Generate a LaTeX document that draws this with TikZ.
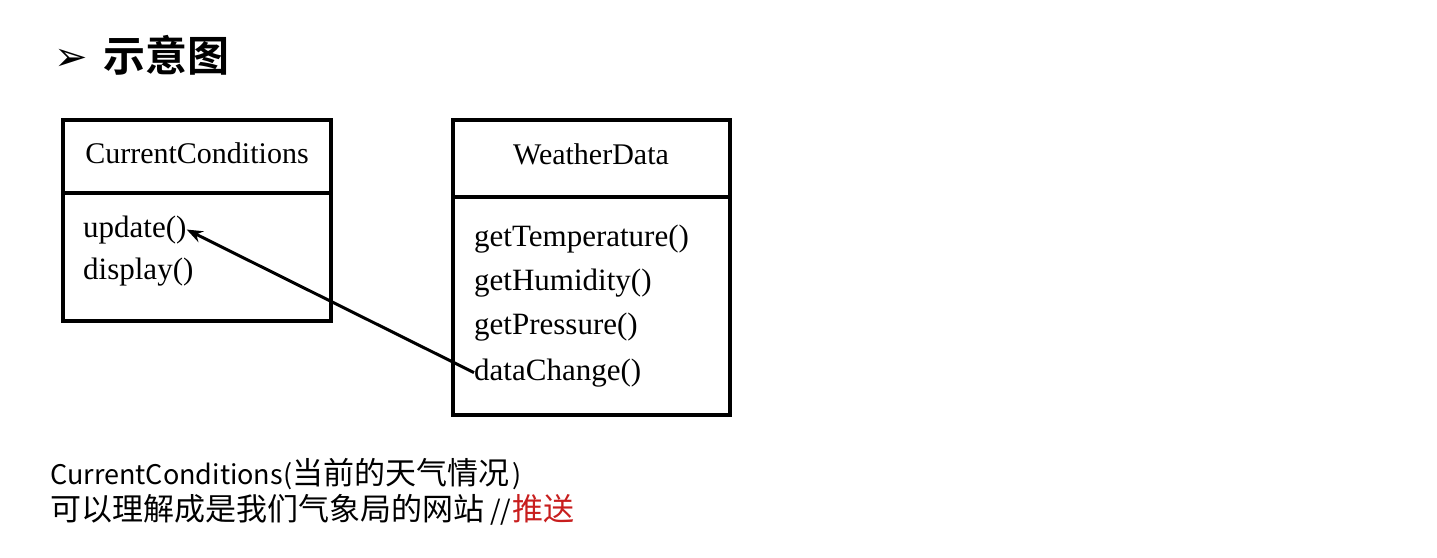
\documentclass[tikz,border=0pt]{standalone}
\usepackage{fontspec}
\setmainfont{Liberation Serif}
\newfontfamily\cjk{Noto Sans CJK SC}
\newfontfamily\cjkbold{Noto Sans CJK SC Bold}
\newfontfamily\dejavu{DejaVu Sans}
\usetikzlibrary{arrows.meta}
\definecolor{pushred}{RGB}{200,30,30}
\newcommand{\latinpart}[1]{{\fontsize{27}{30}\selectfont #1}}
\tikzset{
  box/.style={draw=black, line width=4pt, inner sep=0pt, outer sep=0pt, anchor=north west},
  member/.style={font=\fontsize{31}{34}\selectfont, inner sep=0pt, anchor=base west},
  cname/.style={font=\fontsize{30}{34}\selectfont, inner sep=0pt, anchor=base},
  note/.style={font=\cjk\fontsize{31}{34}\selectfont, inner sep=0pt, anchor=base west},
  link/.style={line width=3pt, -{Stealth[length=16pt,width=12pt]}},
}
\begin{document}
\begin{tikzpicture}[x=1pt,y=-1pt]
\useasboundingbox[fill=white] (0,0) rectangle (1437,557);
% title
\node[font=\dejavu\fontsize{40}{44}\selectfont, inner sep=0pt, anchor=base west] (bullet) at (54,70) {➢};
\node[font=\cjkbold\fontsize{42}{46}\selectfont, inner sep=0pt, anchor=base west] (title) at (103,71) {示意图};
% CurrentConditions
\node[box, minimum width=268pt, minimum height=73pt] (cchead) at (62.5,119.5) {};
\node[box, minimum width=268pt, minimum height=128pt] (ccbody) at (62.5,192.5) {};
\node[cname] (ccname) at (197,163) {CurrentConditions};
\node[member] (update) at (83,237) {update()};
\node[member] (display) at (83,279) {display()};
% WeatherData
\node[box, minimum width=277pt, minimum height=77pt] (wdhead) at (452.5,119.5) {};
\node[box, minimum width=277pt, minimum height=218pt] (wdbody) at (452.5,196.5) {};
\node[cname] (wdname) at (591,164) {WeatherData};
\node[member] (gettemp) at (474,246) {getTemperature()};
\node[member] (gethum) at (474,290) {getHumidity()};
\node[member] (getpres) at (474,334) {getPressure()};
\node[member] (datachange) at (474,380) {dataChange()};
% arrow
\draw[link] (datachange.west) -- (update.east);
% notes
\node[note] (note1) at (50,484) {\latinpart{CurrentConditions(}当前的天气情况\latinpart{\hspace{3pt})}};
\node[note] (note2) at (50,520) {可以理解成是我们气象局的网站\latinpart{\hspace{6pt}//\hspace{1pt}}\textcolor{pushred}{推送}};
\end{tikzpicture}
\end{document}
